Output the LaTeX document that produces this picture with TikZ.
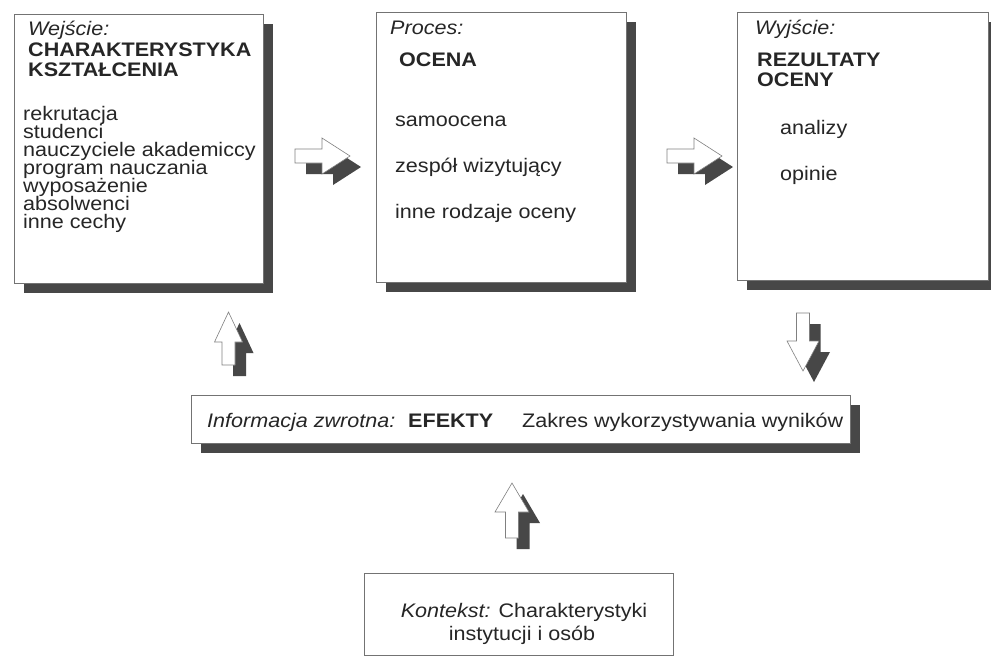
\documentclass[tikz,border=0pt]{standalone}
\usepackage{fontspec}
\setmainfont{Liberation Sans}[FakeStretch=1.1]
\usetikzlibrary{shadows}
\newcommand\fatarrow[7]{%
  \fill[arrowdark,shift={(#1+11,#2+11)},rotate=#3] (0,-#6)--(#4,-#6)--(#4,-#7)--({#4+#5},0)--(#4,#7)--(#4,#6)--(0,#6)--cycle;
  \filldraw[arrowwhite,shift={(#1,#2)},rotate=#3] (0,-#6)--(#4,-#6)--(#4,-#7)--({#4+#5},0)--(#4,#7)--(#4,#6)--(0,#6)--cycle;}
\begin{document}
\begin{tikzpicture}[x=1pt,y=-1pt,
  font=\fontsize{19.6}{18}\selectfont,
  box/.style={draw=black!55, line width=0.8pt, fill=white, rectangle, inner sep=0pt, anchor=north west},
  shadowbox/.style={box, drop shadow={shadow xshift=10pt, shadow yshift=-10pt, fill=black!72, opacity=1}},
  txt/.style={inner sep=0pt, anchor=base west, text=black!85},
  ctxt/.style={inner sep=0pt, anchor=base, text=black!85},
  arrowdark/.style={fill=black!72},
  arrowwhite/.style={fill=white, draw=black!50, line width=0.6pt, line join=miter}]
\useasboundingbox (0,0) rectangle (991,657);
\fill[white] (0,0) rectangle (991,657);
% boxes
\node[shadowbox, minimum width=249pt, minimum height=269pt] (input) at (14,14) {};
\node[shadowbox, minimum width=250pt, minimum height=270pt] (process) at (376,12) {};
\node[shadowbox, minimum width=251pt, minimum height=268pt] (output) at (737,12) {};
\node[shadowbox, minimum width=659pt, minimum height=48pt] (feedback) at (191,395) {};
\node[box, minimum width=309pt, minimum height=82pt] (context) at (364,573) {};
% box 1 text
\node[txt] (in0) at (28,35) {\itshape Wejście:};
\node[txt] (in1) at (28,56) {\bfseries CHARAKTERYSTYKA};
\node[txt] (in2) at (28,76) {\bfseries KSZTAŁCENIA};
\foreach \t [count=\i] in {rekrutacja, studenci, nauczyciele akademiccy, program nauczania, wyposażenie, absolwenci, inne cechy}
  \node[txt, name=item\i] at (23,{102+18*\i}) {\t};
% box 2 text
\node[txt] (pr0) at (390,34) {\itshape Proces:};
\node[txt] (pr1) at (399,66) {\bfseries OCENA};
\node[txt] (pr2) at (395,126) {samoocena};
\node[txt] (pr3) at (395,172) {zespół wizytujący};
\node[txt] (pr4) at (395,218) {inne rodzaje oceny};
% box 3 text
\node[txt] (out0) at (755,34) {\itshape Wyjście:};
\node[txt] (out1) at (757,66) {\bfseries REZULTATY};
\node[txt] (out2) at (757,86) {\bfseries OCENY};
\node[txt] (out3) at (780,134) {analizy};
\node[txt] (out4) at (780,180) {opinie};
% feedback text
\node[txt] (fb0) at (207,427) {\itshape Informacja zwrotna:};
\node[txt] (fb1) at (408,427) {\bfseries EFEKTY};
\node[txt] (fb2) at (522,427) {Zakres wykorzystywania wyników};
% context text
\node[ctxt] (cx0) at (524,617) {\textit{Kontekst:} Charakterystyki};
\node[ctxt] (cx1) at (522,640) {instytucji i osób};
% block arrows
\fatarrow{295}{156}{0}{27}{28}{7}{18}
\fatarrow{667}{156}{0}{27}{28}{7}{18}
\fatarrow{803}{313}{-90}{28}{30}{6.5}{16}
\fatarrow{228.5}{365}{90}{23}{30}{6.5}{14}
\fatarrow{512}{538}{90}{26}{29}{6.5}{17}
\end{tikzpicture}
\end{document}
